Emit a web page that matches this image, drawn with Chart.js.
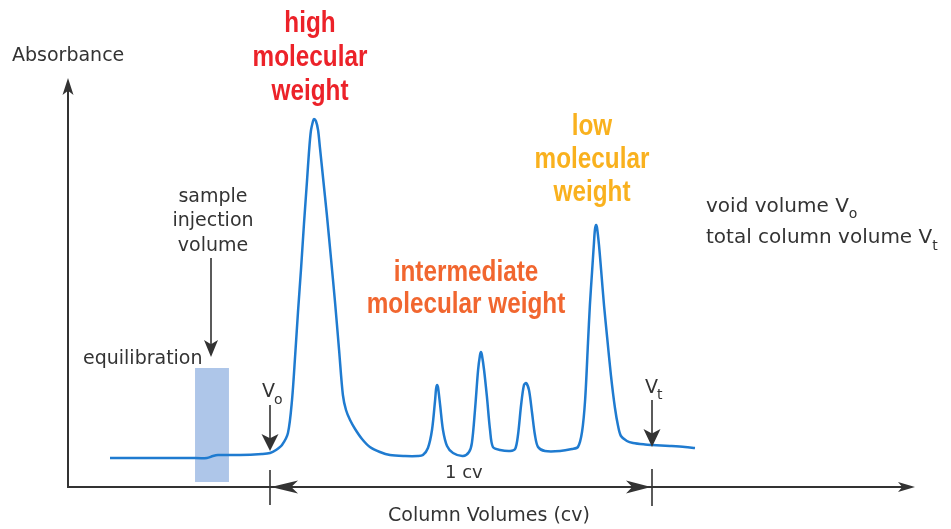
<!DOCTYPE html>
<html>
<head>
<meta charset="utf-8">
<script src="https://cdn.jsdelivr.net/npm/chart.js@4.4.0/dist/chart.umd.min.js"></script>
<style>
  html, body { margin: 0; padding: 0; background: #fff; }
</style>
</head>
<body>
<canvas id="chart" width="951" height="529"></canvas>
<script>
// elution volume (ml) and absorbance
const volume = [1.30, 2.97, 4.65, 5.36, 5.61, 5.82, 6.74, 7.66, 8.00, 8.25, 8.50, 8.75,
  8.92, 9.05, 9.17, 9.30, 9.42, 9.55, 9.63, 9.71, 9.80, 9.84, 9.92, 10.01, 10.09, 10.22, 10.38, 10.55, 10.72, 10.89, 11.05, 11.18, 11.35, 11.56, 11.85,
  12.18, 12.60, 13.02, 13.65, 14.19, 14.40, 14.61, 14.78, 14.91, 14.95, 14.99, 15.03, 15.12, 15.24, 15.41, 15.66,
  16.08, 16.33, 16.45, 16.58, 16.71, 16.79, 16.83, 16.87, 16.96, 17.08, 17.21, 17.33, 17.63,
  18.05, 18.26, 18.38, 18.51, 18.63, 18.72, 18.84, 18.97, 19.09, 19.22, 19.51, 20.14, 20.64, 20.89,
  21.06, 21.19, 21.31, 21.39, 21.48, 21.56, 21.60, 21.65, 21.69, 21.77, 21.86, 21.98, 22.11, 22.27, 22.44, 22.57, 22.69,
  22.94, 23.20, 23.70, 23.99, 24.74, 25.37, 25.79];
const absorbance = [7.09, 7.09, 7.09, 7.09, 7.58, 7.82, 7.82, 8.07, 8.31, 9.05, 10.27, 13.20,
  21.27, 32.03, 42.79, 53.55, 64.30, 75.06, 81.91, 87.04, 89.49, 89.98, 89.49, 87.29, 82.89, 75.55, 66.50, 55.99, 45.23, 33.50, 22.49, 18.83, 16.38, 14.18, 11.74,
  9.78, 8.56, 7.82, 7.58, 7.58, 7.82, 9.54, 13.94, 21.27, 23.96, 24.94, 24.45, 20.05, 13.94, 10.02, 8.31,
  7.58, 8.56, 10.76, 18.83, 28.61, 32.27, 33.01, 32.27, 28.61, 22.01, 13.94, 9.78, 9.05,
  8.80, 9.29, 12.71, 20.05, 24.94, 25.43, 23.72, 18.09, 12.71, 9.78, 8.80, 8.80, 9.29, 9.78,
  13.45, 21.27, 35.21, 44.50, 52.57, 59.66, 62.84, 64.06, 63.33, 59.17, 53.06, 44.50, 36.68, 27.38, 19.32, 14.91, 12.47,
  11.25, 10.76, 10.39, 10.27, 10.02, 9.78, 9.54];

const voidVolume = 8;      // Vo
const totalVolume = 24;    // Vt
const injectionFrom = 4.86;
const injectionTo = 6.28;

const ink = '#333333';
const sans = '"DejaVu Sans", sans-serif';

// filled "stealth" arrow head, (dx,dy) is the direction it points
function arrowHead(ctx, tx, ty, dx, dy, len, half) {
  const nx = -dy, ny = dx;
  ctx.beginPath();
  ctx.moveTo(tx, ty);
  ctx.lineTo(tx - dx * len + nx * half, ty - dy * len + ny * half);
  ctx.lineTo(tx - dx * len * 0.75, ty - dy * len * 0.75);
  ctx.lineTo(tx - dx * len - nx * half, ty - dy * len - ny * half);
  ctx.closePath();
  ctx.fill();
}

function text(ctx, str, x, y, size, align) {
  ctx.font = size + 'px ' + sans;
  ctx.textAlign = align || 'left';
  ctx.fillText(str, x, y);
  return x + ctx.measureText(str).width;
}

function boldLabel(ctx, lines, cx, y0, step, color) {
  ctx.fillStyle = color;
  ctx.font = 'bold 30px "Liberation Sans", Arial, sans-serif';
  ctx.textAlign = 'center';
  lines.forEach((l, i) => {
    ctx.save();
    ctx.translate(cx, y0 + i * step);
    ctx.scale(0.81, 1);
    ctx.fillText(l, 0, 0);
    ctx.restore();
  });
}

const diagram = {
  id: 'diagram',
  beforeDatasetsDraw(chart) {
    const ctx = chart.ctx, xs = chart.scales.x;
    ctx.save();
    ctx.fillStyle = '#aec6e9';
    const x0 = xs.getPixelForValue(injectionFrom), x1 = xs.getPixelForValue(injectionTo);
    ctx.fillRect(x0, 368, x1 - x0, 114);
    ctx.restore();
  },
  afterDraw(chart) {
    const ctx = chart.ctx, a = chart.chartArea, xs = chart.scales.x;
    const vo = Math.round(xs.getPixelForValue(voidVolume));
    const vt = Math.round(xs.getPixelForValue(totalVolume));
    ctx.save();
    ctx.strokeStyle = ink;
    ctx.fillStyle = ink;
    ctx.lineWidth = 2;

    // axes
    ctx.beginPath();
    ctx.moveTo(a.left + 1, a.bottom);
    ctx.lineTo(a.left + 1, a.top + 12);
    ctx.moveTo(a.left, a.bottom);
    ctx.lineTo(a.right - 12, a.bottom);
    ctx.stroke();
    arrowHead(ctx, a.left + 1, a.top, 0, -1, 17, 5.5);
    arrowHead(ctx, a.right, a.bottom, 1, 0, 17, 5);

    // Vo / Vt ticks and 1 cv span
    ctx.lineWidth = 1.6;
    ctx.beginPath();
    ctx.moveTo(vo, a.bottom - 17); ctx.lineTo(vo, a.bottom + 18);
    ctx.moveTo(vt, a.bottom - 18); ctx.lineTo(vt, a.bottom + 19);
    ctx.stroke();
    arrowHead(ctx, vo + 1, a.bottom, -1, 0, 27, 6.5);
    arrowHead(ctx, vt - 1, a.bottom, 1, 0, 25, 6.5);

    // vertical pointer arrows
    ctx.beginPath();
    ctx.moveTo(211, 258); ctx.lineTo(211, 345);
    ctx.moveTo(vo, 405); ctx.lineTo(vo, 440);
    ctx.moveTo(vt, 400); ctx.lineTo(vt, 436);
    ctx.stroke();
    arrowHead(ctx, 211, 357, 0, 1, 17, 7);
    arrowHead(ctx, vo, 451, 0, 1, 17, 8.5);
    arrowHead(ctx, vt, 447, 0, 1, 18, 8.5);

    // black labels
    text(ctx, 'Absorbance', 12, 61, 19);
    text(ctx, 'sample', 213, 202, 19, 'center');
    text(ctx, 'injection', 213, 226, 19, 'center');
    text(ctx, 'volume', 213, 251, 19, 'center');
    text(ctx, 'equilibration', 83, 364, 19);
    let e = text(ctx, 'V', 262, 397, 19);
    text(ctx, 'o', e - 1, 404, 14);
    e = text(ctx, 'V', 645, 393, 19);
    text(ctx, 't', e - 1, 399, 14);
    text(ctx, '1 cv', 445, 478, 18);
    text(ctx, 'Column Volumes (cv)', 489, 521, 19, 'center');
    e = text(ctx, 'void volume V', 706, 212, 20);
    text(ctx, 'o', e, 218, 14);
    e = text(ctx, 'total column volume V', 706, 243, 20);
    text(ctx, 't', e, 250, 14);

    // coloured peak labels
    boldLabel(ctx, ['high', 'molecular', 'weight'], 310, 32, 34, '#ec2229');
    boldLabel(ctx, ['intermediate', 'molecular weight'], 466, 281, 32, '#f1662f');
    boldLabel(ctx, ['low', 'molecular', 'weight'], 592, 135, 33, '#f9b11e');
    ctx.restore();
  }
};

new Chart(document.getElementById('chart').getContext('2d'), {
  type: 'line',
  data: {
    datasets: [{
      data: volume.map((v, i) => ({ x: v, y: absorbance[i] })),
      borderColor: '#1f7bd0',
      borderWidth: 2.5,
      pointRadius: 0,
      tension: 0.3,
      fill: false
    }]
  },
  options: {
    responsive: false,
    animation: false,
    devicePixelRatio: 1,
    layout: { padding: { left: 67, right: 36, top: 78, bottom: 42 } },
    plugins: { legend: { display: false }, tooltip: { enabled: false } },
    scales: {
      x: { type: 'linear', min: -0.5, max: 35, display: false },
      y: { min: 0, max: 100, display: false }
    }
  },
  plugins: [diagram]
});
</script>
</body>
</html>
